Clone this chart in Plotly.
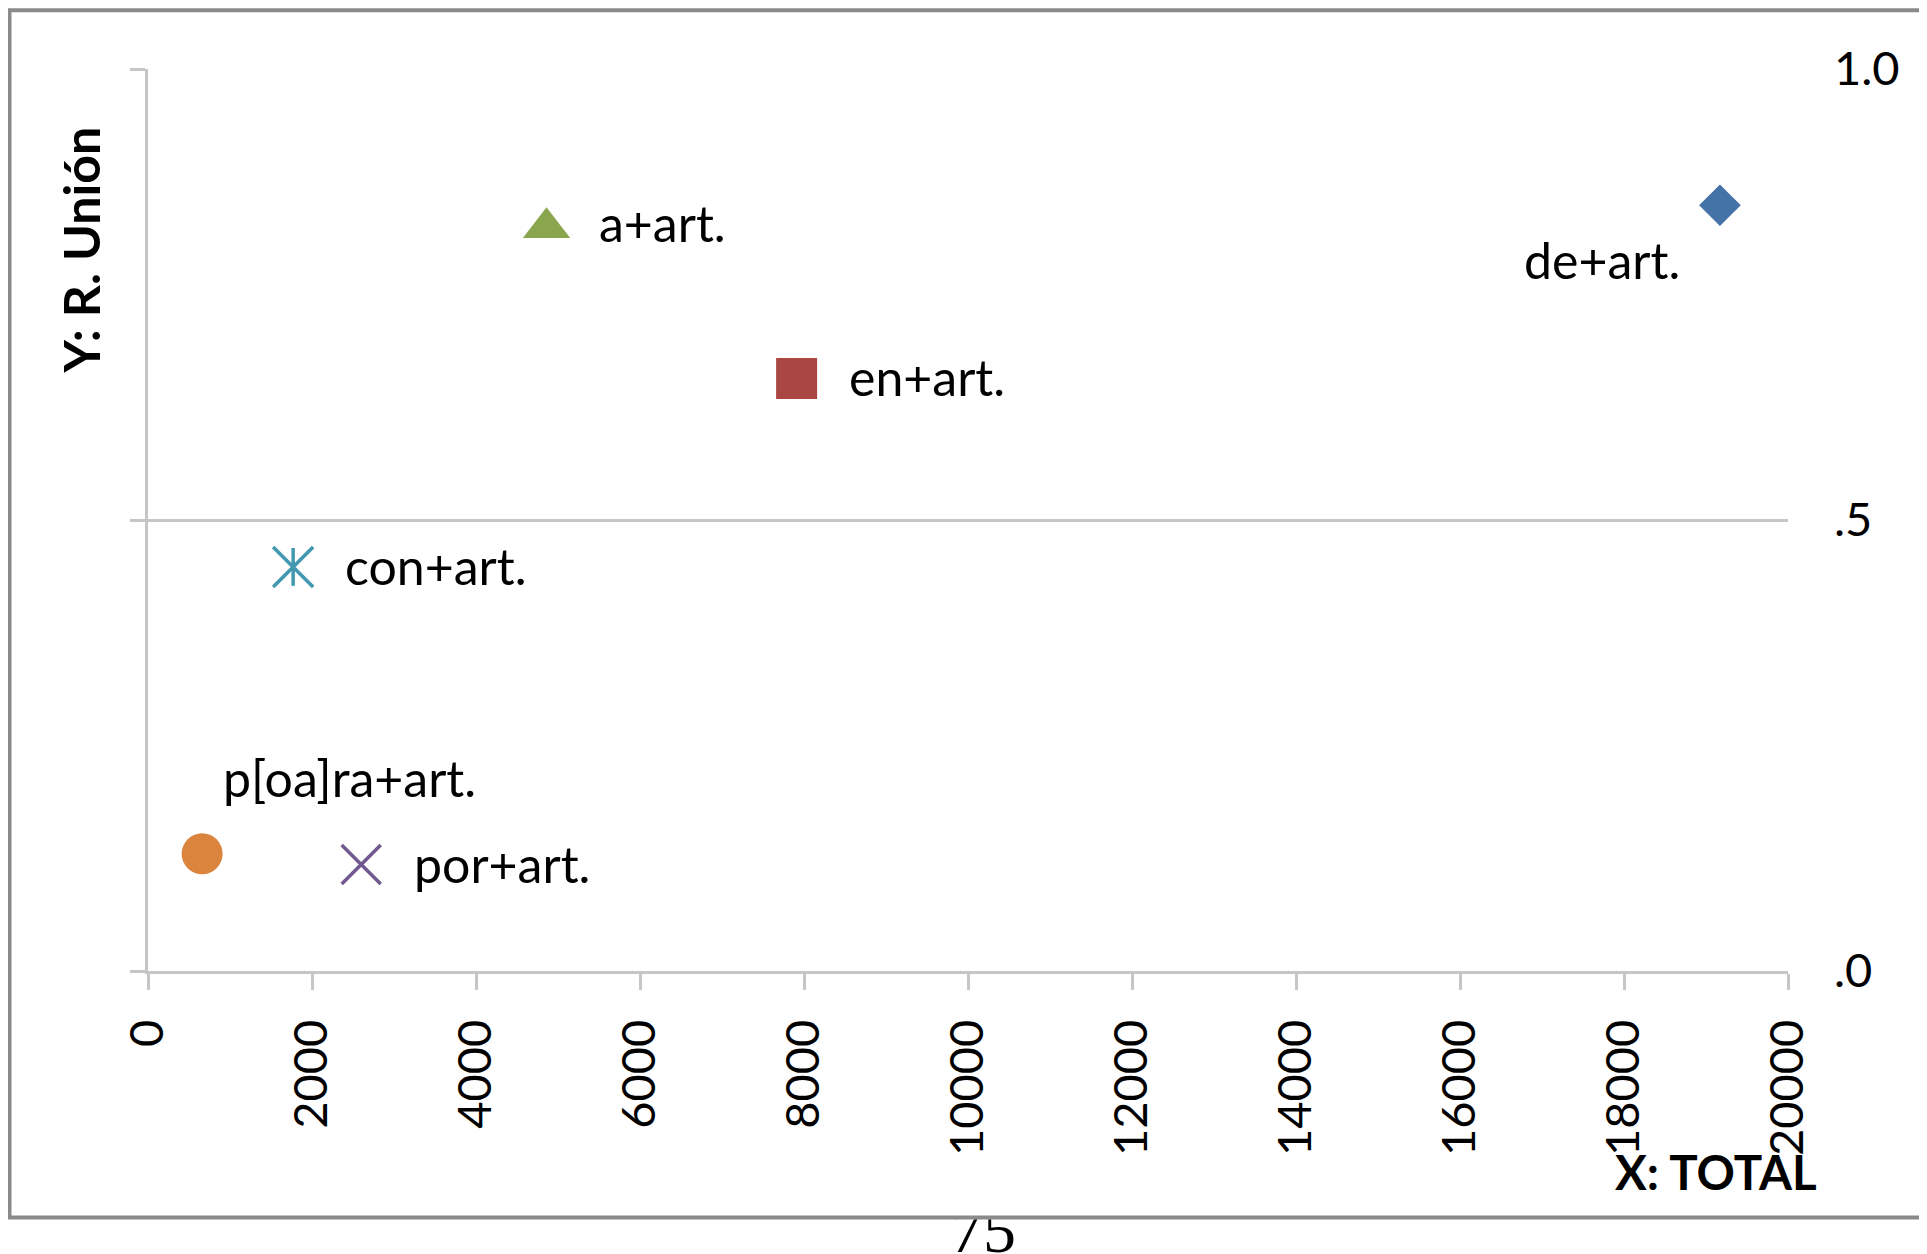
import plotly.graph_objects as go

# ---------------- data ----------------
categories = ["de+art.", "en+art.", "a+art.", "con+art.", "por+art.", "p[oa]ra+art."]
x_total = [19170, 7910, 4860, 1770, 2600, 660]
y_union = [0.849, 0.657, 0.824, 0.448, 0.118, 0.130]

x_ticks = [0, 2000, 4000, 6000, 8000, 10000, 12000, 14000, 16000, 18000, 20000]
y_ticks = [0.0, 0.5, 1.0]
y_ticktext = [".0", ".5", "1.0"]
page_number = "75"

# ---------------- styles ----------------
# the page body adds an 8px offset, so figure pixels = screen pixels - 8
W, H = 1919, 1246
PX0, PX1 = 140, 1780       # plot area (figure pixels)
PY0, PY1 = 61, 963
FONT = "Lato"
GRID = "#c6c6c6"

colors = ["#4572A7", "#AA4643", "#89A54E", "#4198AF", "#71588F", "#DB843D"]
symbols = ["diamond", "square", "triangle-up", "x-thin-open", "x-thin-open", "circle"]
sizes = [32, 41, 41, 40, 39, 41]
# label placement per category: (xanchor, xshift, yshift)
label_place = [("right", -38, -55), ("left", 50, 1), ("left", 50, 5),
               ("left", 50, 1), ("left", 51, 1), ("left", 19, 76)]

fig = go.Figure()

for i, cat in enumerate(categories):
    fig.add_trace(go.Scatter(
        x=[x_total[i]], y=[y_union[i]], mode="markers", name=cat,
        marker=dict(symbol=symbols[i], size=sizes[i], color=colors[i],
                    line=dict(width=3.5 if "thin" in symbols[i] else 0, color=colors[i])),
        cliponaxis=False, showlegend=False, hoverinfo="x+y+name"))
    if cat == "con+art.":
        # vertical stroke of Excel's star marker
        fig.add_trace(go.Scatter(
            x=[x_total[i]], y=[y_union[i]], mode="markers", name=cat,
            marker=dict(symbol="line-ns-open", size=27, color=colors[i],
                        line=dict(width=3.5, color=colors[i])),
            cliponaxis=False, showlegend=False, hoverinfo="skip"))
    xa, xs, ys = label_place[i]
    fig.add_annotation(x=x_total[i], y=y_union[i], xref="x", yref="y", text=cat,
                       showarrow=False, xanchor=xa, yanchor="middle",
                       xshift=xs, yshift=ys,
                       font=dict(family=FONT, size=50, color="black"))

# invisible companion so the right-hand value axis is drawn
fig.add_trace(go.Scatter(x=x_total, y=y_union, yaxis="y2", mode="markers",
                         marker=dict(opacity=0), showlegend=False, hoverinfo="skip"))

# page number, partly hidden below the chart frame
fig.add_trace(go.Scatter(
    x=[975], y=[19], mode="text", text=[page_number], xaxis="x3", yaxis="y3",
    textposition="middle center", cliponaxis=True,
    textfont=dict(family="Liberation Serif", size=66, color="black"),
    showlegend=False, hoverinfo="skip"))

xdom = [PX0 / W, PX1 / W]
ydom = [1 - PY1 / H, 1 - PY0 / H]
strip = 34.5  # height of the strip below the frame (px)

fig.update_layout(
    template="none",
    width=W, height=H,
    margin=dict(l=0, r=0, t=0, b=0, pad=0, autoexpand=False),
    paper_bgcolor="white", plot_bgcolor="white",
    font=dict(family=FONT, color="black"),
    showlegend=False,
    xaxis=dict(domain=xdom, range=[0, 20000], tickvals=x_ticks, tickformat="d",
               tickangle=-90, showgrid=False, zeroline=False, automargin=False,
               showline=True, linecolor=GRID, linewidth=3,
               ticks="outside", ticklen=16, tickwidth=3, tickcolor=GRID,
               tickfont=dict(family=FONT, size=47, color="black"),
               ticklabelstandoff=11, anchor="y"),
    yaxis=dict(domain=ydom, range=[0, 1], tickvals=y_ticks, showticklabels=False,
               showgrid=True, gridcolor=GRID, gridwidth=3, zeroline=False, automargin=False,
               showline=True, linecolor=GRID, linewidth=3,
               ticks="outside", ticklen=15, tickwidth=3, tickcolor=GRID, anchor="x"),
    yaxis2=dict(overlaying="y", side="right", anchor="x", range=[0, 1], automargin=False,
                tickvals=y_ticks, ticktext=y_ticktext, showgrid=False, zeroline=False,
                showline=False, ticks="", ticklabelstandoff=45,
                tickfont=dict(family=FONT, size=47, color="black")),
    xaxis3=dict(domain=[0, 1], range=[0, W], visible=False, anchor="y3",
                fixedrange=True, automargin=False),
    yaxis3=dict(domain=[0, strip / H], range=[0, strip], visible=False, anchor="x3",
                fixedrange=True, automargin=False),
)

# chart frame
fig.add_shape(type="rect", xref="paper", yref="paper",
              x0=1.5 / W, x1=1.02, y0=1 - 1209.5 / H, y1=1 - 2.3 / H,
              line=dict(color="#8a8a8a", width=4), fillcolor="rgba(0,0,0,0)", layer="below")

# axis titles
fig.add_annotation(xref="paper", yref="paper", x=1811 / W, y=1 - 1163.6 / H,
                   text="<b>X: TOTAL</b>", showarrow=False, xanchor="right", yanchor="middle",
                   font=dict(family=FONT, size=47.5, color="black"))
fig.add_annotation(xref="paper", yref="paper", x=72.6 / W, y=1 - 242 / H,
                   text="<b>Y: R. Unión</b>", showarrow=False, textangle=-90,
                   xanchor="center", yanchor="middle",
                   font=dict(family=FONT, size=50, color="black"))

fig.write_html("out.html")
